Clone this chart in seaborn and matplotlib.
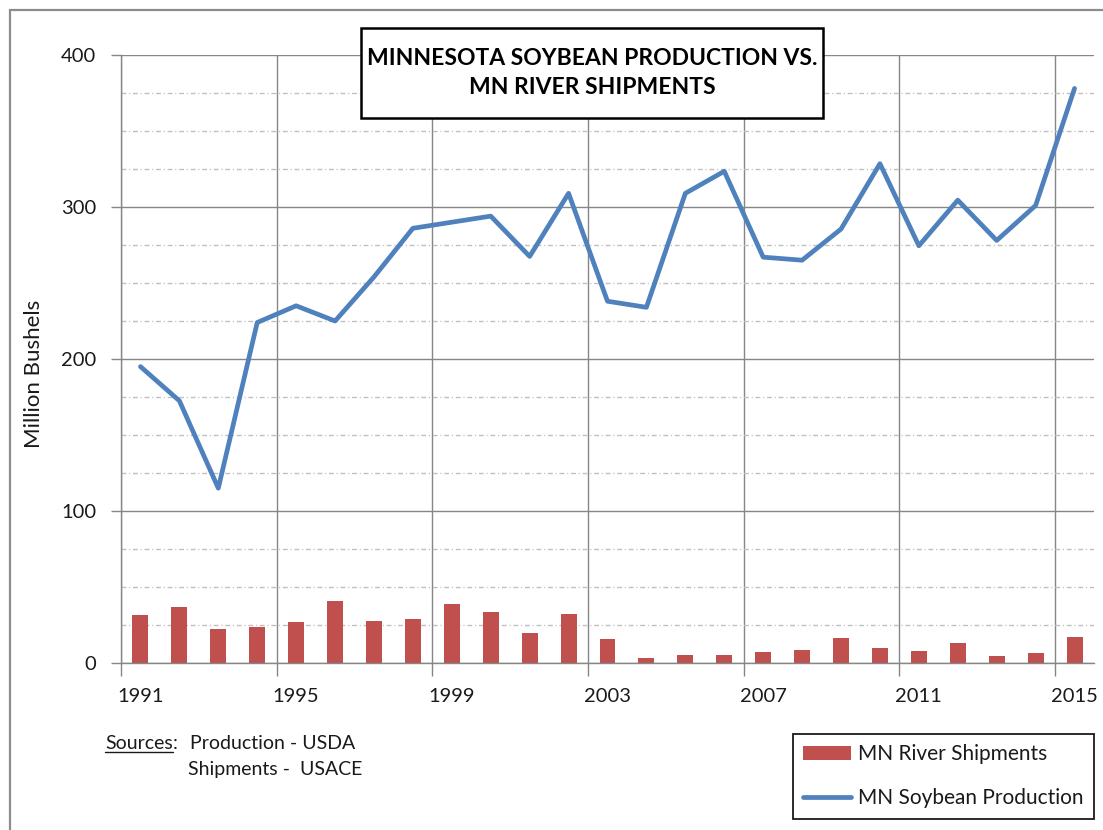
import numpy as np
import seaborn as sns
import matplotlib.pyplot as plt
from matplotlib.patches import Rectangle
from matplotlib.lines import Line2D
from matplotlib.ticker import FixedLocator, MultipleLocator, NullFormatter, FuncFormatter

# data
years = list(range(1991, 2016))
production = [195, 172.5, 115, 224, 235, 225, 254, 286, 290, 294, 267.5, 309, 238,
              234, 309, 323.5, 267, 265, 285.5, 328.5, 274.5, 304.5, 278, 301, 378]
shipments = [31.4, 36.6, 22.6, 23.5, 27, 41, 27.6, 29.2, 38.8, 33.6, 19.5, 32.2, 16,
             3.3, 5.5, 5.5, 7, 8.6, 16.7, 10.1, 7.7, 12.9, 4.8, 6.4, 17.3]
label_years = years[::4]

bar_color = "#C0504D"
line_color = "#4F81BD"
grid_color = "#868686"

sns.set_theme(style="white")
plt.rcParams["font.family"] = ["Lato", "DejaVu Sans"]
plt.rcParams["text.color"] = "#1a1a1a"

fig = plt.figure(figsize=(11.03, 8.30), dpi=100)
ax = fig.add_axes([121 / 1103, 1 - 663 / 830, 973 / 1103, 608 / 830])

sns.barplot(x=years, y=shipments, native_scale=True, width=0.41, color=bar_color,
            saturation=1, ax=ax, label="MN River Shipments", linewidth=0)
sns.lineplot(x=years, y=production, color=line_color, linewidth=3.4, ax=ax,
             label="MN Soybean Production")
handles, labels = ax.get_legend_handles_labels()
lookup = dict(zip(labels, handles))
if ax.get_legend() is not None:
    ax.get_legend().remove()

ax.set_xlim(1990.5, 2015.5)
ax.set_ylim(0, 400)
ax.set_axisbelow(True)

# x: gridlines at category boundaries, labels at category centres
ax.xaxis.set_major_locator(FixedLocator(np.arange(1990.5, 2015, 4)))
ax.xaxis.set_major_formatter(NullFormatter())
ax.xaxis.set_minor_locator(FixedLocator(label_years))
ax.xaxis.set_minor_formatter(FuncFormatter(lambda v, p: f"{v:.0f}"))
ax.tick_params(axis="x", which="major", bottom=True, length=9, width=1, color=grid_color, direction="out")
ax.tick_params(axis="x", which="minor", bottom=True, length=0, pad=18, labelsize=14.5, labelcolor="#1a1a1a")

ax.yaxis.set_major_locator(MultipleLocator(100))
ax.yaxis.set_minor_locator(MultipleLocator(25))
ax.tick_params(axis="y", which="major", left=True, length=7, width=1, color=grid_color,
               direction="out", pad=11, labelsize=14.5, labelcolor="#1a1a1a")
ax.tick_params(axis="y", which="minor", left=False, length=0)

ax.grid(which="major", axis="both", color=grid_color, linewidth=1, linestyle="-")
ax.grid(which="minor", axis="y", color="#c0c0c0", linewidth=1, linestyle=(0, (3.5, 2, 0.8, 2)))
ax.grid(which="minor", axis="x", visible=False)

for side in ["top", "right"]:
    ax.spines[side].set_visible(False)
for side in ["left", "bottom"]:
    ax.spines[side].set_color(grid_color)
    ax.spines[side].set_linewidth(1)

ax.set_xlabel("")
ax.set_ylabel("Million Bushels", fontsize=16, color="#1a1a1a")
ax.yaxis.set_label_coords((44 - 121) / 973, (663 - 374) / 608)

# outer chart frame
fig.add_artist(Rectangle((10 / 1103, -0.2), 1.2, 1.2 - 10 / 830,
                         transform=fig.transFigure, fill=False, edgecolor="#8c8c8c", linewidth=1.6))

# title box
fig.add_artist(Rectangle((361 / 1103, 1 - 118 / 830), 462 / 1103, 90 / 830,
                         transform=fig.transFigure, facecolor="white", edgecolor="black",
                         linewidth=1.8, zorder=5))
fig.text(592 / 1103, 1 - 73 / 830, "MINNESOTA SOYBEAN PRODUCTION VS.\nMN RIVER SHIPMENTS",
         ha="center", va="center", fontsize=16.5, fontweight="bold", linespacing=1.45,
         color="black", zorder=6)

# legend
leg = fig.legend([lookup["MN River Shipments"], lookup["MN Soybean Production"]],
                 ["MN River Shipments", "MN Soybean Production"],
                 loc="upper left", bbox_to_anchor=(793 / 1103, 1 - 734 / 830), borderaxespad=0,
                 fontsize=15, frameon=True, fancybox=False, framealpha=1, edgecolor="#1a1a1a",
                 handlelength=2.3, handleheight=0.6, handletextpad=0.3, labelspacing=1.15,
                 borderpad=0.5)
leg.get_frame().set_linewidth(1.3)

# sources note
src = fig.text(105 / 1103, 1 - 749 / 830, "Sources", fontsize=14, va="baseline")
fig.text(190 / 1103, 1 - 749 / 830, "Production - USDA", fontsize=14, va="baseline")
fig.text(188 / 1103, 1 - 775 / 830, "Shipments -  USACE", fontsize=14, va="baseline")
fig.canvas.draw()
bb = src.get_window_extent()
fig.text(bb.x1 / 1103, 1 - 749 / 830, ":", fontsize=14, va="baseline")
uy = (830 - 751.5) / 830
fig.add_artist(Line2D([bb.x0 / 1103, bb.x1 / 1103], [uy, uy], transform=fig.transFigure,
                      color="#1a1a1a", linewidth=1))

fig.savefig("out.png", dpi=100)
